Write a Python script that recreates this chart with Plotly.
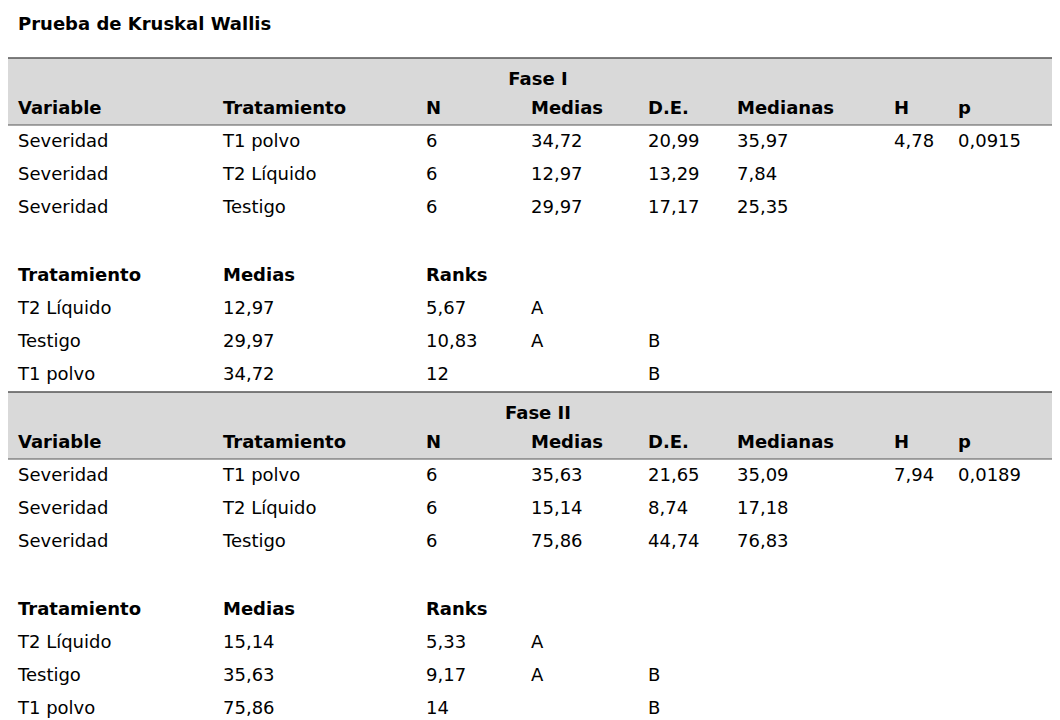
import plotly.graph_objects as go

# Data
fases = ["Fase I", "Fase II"]
header = ["Variable", "Tratamiento", "N", "Medias", "D.E.", "Medianas", "H", "p"]
tratamientos = ["T1 polvo", "T2 Líquido", "Testigo"]
n = [6, 6, 6]
medias = [["34,72", "12,97", "29,97"], ["35,63", "15,14", "75,86"]]
de = [["20,99", "13,29", "17,17"], ["21,65", "8,74", "44,74"]]
medianas = [["35,97", "7,84", "25,35"], ["35,09", "17,18", "76,83"]]
h_val = ["4,78", "7,94"]
p_val = ["0,0915", "0,0189"]

rank_header = ["Tratamiento", "Medias", "Ranks"]
rank_trat = [["T2 Líquido", "Testigo", "T1 polvo"], ["T2 Líquido", "Testigo", "T1 polvo"]]
rank_medias = [["12,97", "29,97", "34,72"], ["15,14", "35,63", "75,86"]]
rank_ranks = [["5,67", "10,83", "12"], ["5,33", "9,17", "14"]]
rank_a = [["A", "A", ""], ["A", "A", ""]]
rank_b = [["", "B", "B"], ["", "B", "B"]]

col_x = [10, 215, 418, 523, 640, 729, 886, 950]
font = "DejaVu Sans"
fs = 18

fig = go.Figure()
bold_x, bold_y, bold_t = [], [], []
reg_x, reg_y, reg_t = [], [], []
shapes = []

def add(lst_x, lst_y, lst_t, x, y, t):
    lst_x.append(x); lst_y.append(y); lst_t.append(str(t))

for f, fase in enumerate(fases):
    top = 50 + f * 334
    shapes.append(dict(type="rect", x0=0, x1=1058, y0=top, y1=top + 67,
                       fillcolor="#d9d9d9", line_width=0, layer="below"))
    shapes.append(dict(type="line", x0=0, x1=1058, y0=top, y1=top,
                       line=dict(color="#555", width=1.5)))
    shapes.append(dict(type="line", x0=0, x1=1058, y0=top + 67, y1=top + 67,
                       line=dict(color="#555", width=1)))
    fig.add_trace(go.Scatter(x=[530], y=[top + 22], text=["<b>" + fase + "</b>"],
                             mode="text", textposition="middle center",
                             textfont=dict(family=font, size=fs, color="black"),
                             hoverinfo="skip"))
    for c, hname in enumerate(header):
        add(bold_x, bold_y, bold_t, col_x[c], top + 51, hname)
    for r in range(3):
        y = top + 84 + r * 33
        row = ["Severidad", tratamientos[r], n[r], medias[f][r], de[f][r], medianas[f][r],
               h_val[f] if r == 0 else "", p_val[f] if r == 0 else ""]
        for c, v in enumerate(row):
            if v != "":
                add(reg_x, reg_y, reg_t, col_x[c], y, v)
    for c, hname in enumerate(rank_header):
        add(bold_x, bold_y, bold_t, col_x[c], top + 218, hname)
    for r in range(3):
        y = top + 251 + r * 33
        row = [rank_trat[f][r], rank_medias[f][r], rank_ranks[f][r], rank_a[f][r], rank_b[f][r]]
        xs = [10, 215, 418, 523, 640]
        for c, v in enumerate(row):
            if v != "":
                add(reg_x, reg_y, reg_t, xs[c], y, v)

shapes.append(dict(type="line", x0=0, x1=1058, y0=717, y1=717, line=dict(color="#555", width=1.5)))

fig.add_trace(go.Scatter(x=bold_x, y=bold_y, text=["<b>" + t + "</b>" for t in bold_t],
                         mode="text", textposition="middle right",
                         textfont=dict(family=font, size=fs, color="black"), hoverinfo="skip"))
fig.add_trace(go.Scatter(x=reg_x, y=reg_y, text=reg_t, mode="text", textposition="middle right",
                         textfont=dict(family=font, size=fs, color="black"), hoverinfo="skip"))
fig.add_trace(go.Scatter(x=[10], y=[17], text=["<b>Prueba de Kruskal Wallis</b>"], mode="text",
                         textposition="middle right",
                         textfont=dict(family=font, size=fs, color="black"), hoverinfo="skip"))

fig.update_layout(width=1060, height=720, margin=dict(l=0, r=0, t=0, b=0),
                  plot_bgcolor="white", paper_bgcolor="white", showlegend=False,
                  shapes=shapes,
                  xaxis=dict(range=[0, 1060], visible=False, fixedrange=True),
                  yaxis=dict(range=[720, 0], visible=False, fixedrange=True))
fig.write_html("out.html")
